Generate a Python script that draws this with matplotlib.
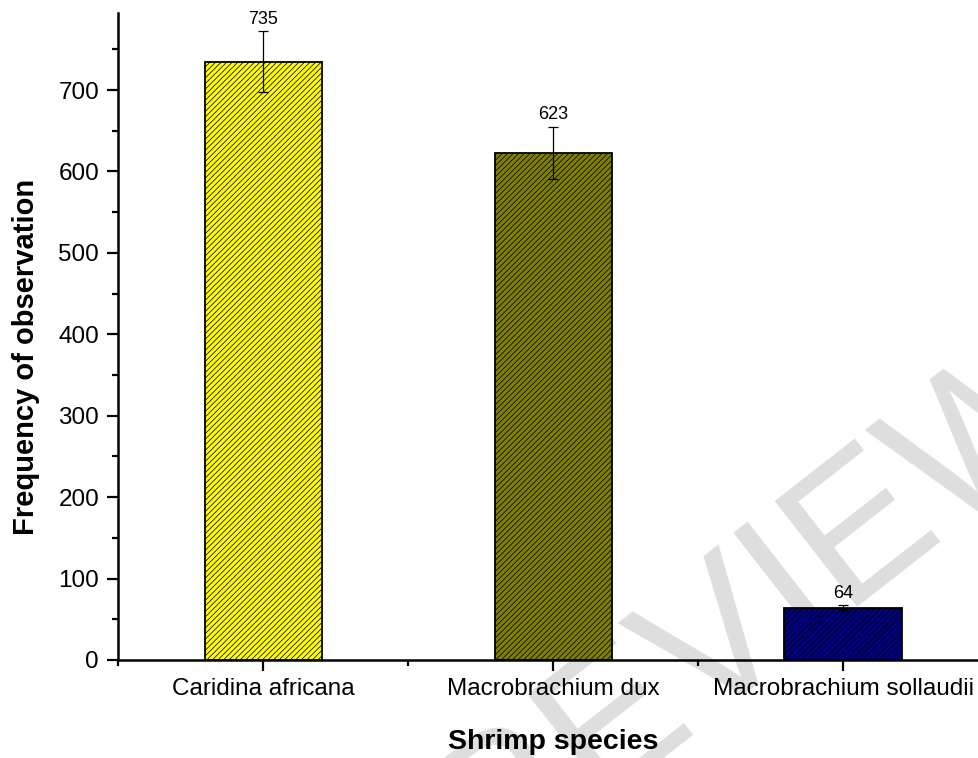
import numpy as np
import matplotlib
matplotlib.use("Agg")
from matplotlib import pyplot as plt
from matplotlib.ticker import MultipleLocator, FixedLocator

species = ['Caridina africana', 'Macrobrachium dux', 'Macrobrachium sollaudii']
counts = [735, 623, 64]
errors = [37, 32, 3]
bar_colors = ['#FFFF00', '#808000', '#000080']

plt.rcParams['font.family'] = ['Liberation Sans', 'DejaVu Sans']
plt.rcParams['hatch.linewidth'] = 0.55

fig = plt.figure(figsize=(9.79, 7.58), dpi=100)
ax = fig.add_axes([118.5 / 979, 98 / 758, (988 - 118.5) / 979, (660 - 12.7) / 758])
ax.patch.set_alpha(0)

x = np.arange(1, len(species) + 1)

# watermark behind the bars
ax.text(0.772, 0.195, 'REVIEW', transform=fig.transFigure, fontsize=140,
        color='#dedede', rotation=38, ha='center', va='center',
        zorder=0.5, clip_on=False)

ax.bar(x, counts, width=0.405, color=bar_colors, edgecolor='black',
       linewidth=1.3, hatch='//////', zorder=2)
ax.errorbar(x, counts, yerr=errors, fmt='none', ecolor='black',
            elinewidth=0.9, capsize=3.8, capthick=0.9, zorder=3)

for xi, c, e in zip(x, counts, errors):
    ax.annotate(str(c), xy=(xi, c + e), xytext=(0, 2.5), textcoords='offset points',
                ha='center', va='bottom', fontsize=13)

ax.set_xlim(0.5, 3.5)
ax.set_ylim(0, 795)

ax.set_xticks(x)
ax.set_xticklabels(species)
ax.xaxis.set_minor_locator(FixedLocator([0.5, 1.5, 2.5, 3.5]))
ax.yaxis.set_major_locator(MultipleLocator(100))
ax.yaxis.set_minor_locator(MultipleLocator(50))

for s in ['top', 'right']:
    ax.spines[s].set_visible(False)
for s in ['left', 'bottom']:
    ax.spines[s].set_linewidth(1.8)

ax.tick_params(axis='both', which='major', length=8, width=1.6, labelsize=17.5)
ax.tick_params(axis='both', which='minor', length=4.5, width=1.6)
ax.tick_params(axis='y', which='major', pad=6)
ax.tick_params(axis='x', which='major', pad=5)

ax.set_xlabel('Shrimp species', fontsize=20.5, fontweight='bold')
ax.xaxis.label.set_va('center')
ax.xaxis.set_label_coords(0.5, (660 - 742) / 647.3)
ax.set_ylabel('Frequency of observation', fontsize=21, fontweight='bold')
ax.yaxis.label.set_va('center')
ax.yaxis.set_label_coords((26 - 118.5) / 869.5, (660 - 357) / 647.3)

fig.savefig('out.png', dpi=100)
